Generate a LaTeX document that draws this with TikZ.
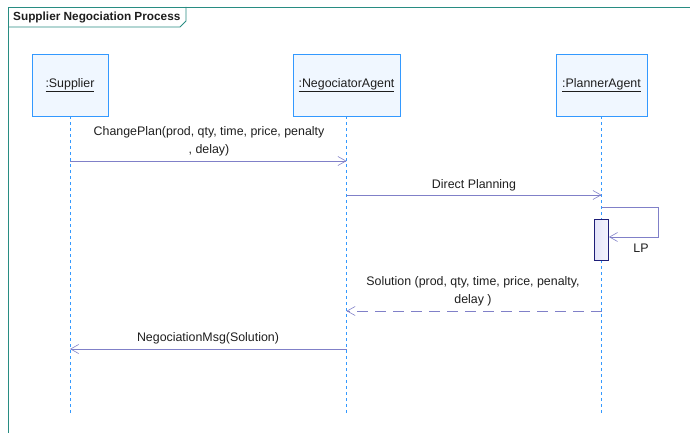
\documentclass[tikz,border=0pt]{standalone}
\usepackage{fontspec}
\setmainfont{Liberation Sans}
\usetikzlibrary{arrows.meta}
\definecolor{framec}{RGB}{40,140,130}
\definecolor{boxc}{RGB}{51,153,255}
\definecolor{boxfill}{RGB}{240,247,255}
\definecolor{msgc}{RGB}{128,128,200}
\definecolor{actc}{RGB}{30,30,120}
\definecolor{actfill}{RGB}{228,228,250}
\definecolor{txt}{RGB}{30,30,30}
\tikzset{
  every node/.style={font=\fontsize{12.4}{18}\selectfont, text=txt},
  objbox/.style={draw=boxc, line width=0.9pt, fill=boxfill, minimum height=62pt, inner sep=0pt},
  lifeline/.style={boxc, line width=1pt, dash pattern=on 3pt off 3pt},
  msg/.style={msgc, line width=0.8pt, -{Straight Barb[length=8pt,width=9pt,line width=0.6pt]}},
  retmsg/.style={msg, dash pattern=on 11pt off 7pt},
  lbl/.style={align=center, inner sep=0pt},
  actbox/.style={draw=actc, line width=0.9pt, left color=actfill, right color=actfill!40, inner sep=0pt, minimum width=14pt, minimum height=41pt}
}
\begin{document}
\begin{tikzpicture}[x=1pt, y=-1pt]
\useasboundingbox (0,0) rectangle (690,433);
% frame and title tab
\draw[framec, line width=0.9pt] (8,433) -- (8,7) -- (690,7);
\draw[framec, line width=0.9pt] (8,27) -- (180,27) -- (186,21) -- (186,7);
\node[anchor=west, font=\fontsize{11.8}{14}\selectfont\bfseries, inner sep=0pt] (title) at (13,17.5) {Supplier Negociation Process};
% participants
\node[objbox, minimum width=76pt] (sup) at (70,85) {\underline{:Supplier}};
\node[objbox, minimum width=107pt] (neg) at (346.5,85) {\underline{:NegociatorAgent}};
\node[objbox, minimum width=91pt] (pla) at (601.5,85) {\underline{:PlannerAgent}};
% lifeline ends
\coordinate (supE) at (70,414);
\coordinate (negE) at (346.5,414);
\coordinate (plaE) at (601.5,414);
\draw[lifeline] (sup.south) -- (supE);
\draw[lifeline] (neg.south) -- (negE);
\draw[lifeline] (pla.south) -- (plaE);
% activation on planner
\node[actbox, anchor=north] (act) at (601.5,219) {};
% messages
\coordinate (m1a) at (70,161);   \coordinate (m1b) at (346.5,161);
\coordinate (m2a) at (346.5,195); \coordinate (m2b) at (601.5,195);
\coordinate (m3a) at (601.5,311); \coordinate (m3b) at (346.5,311);
\coordinate (m4a) at (346.5,349); \coordinate (m4b) at (70,349);
\draw[msg] (m1a) -- (m1b);
\node[lbl] (l1) at (209,141) {ChangePlan(prod, qty, time, price, penalty\\, delay)};
\draw[msg] (m2a) -- (m2b);
\node[lbl] (l2) at (474,185) {Direct Planning};
% self call
\coordinate (s1) at (601.5,207);
\coordinate (s2) at (658,207);
\coordinate (s3) at (658,237);
\draw[msg] (s1) -- (s2) -- (s3) -- (act.east |- s3);
\node[lbl] (lp) at (641,248) {LP};
\draw[retmsg] (m3a) -- (m3b);
\node[lbl] (l3) at (473,291) {Solution (prod, qty, time, price, penalty,\\delay )};
\draw[msg] (m4a) -- (m4b);
\node[lbl] (l4) at (208,338) {NegociationMsg(Solution)};
\end{tikzpicture}
\end{document}
